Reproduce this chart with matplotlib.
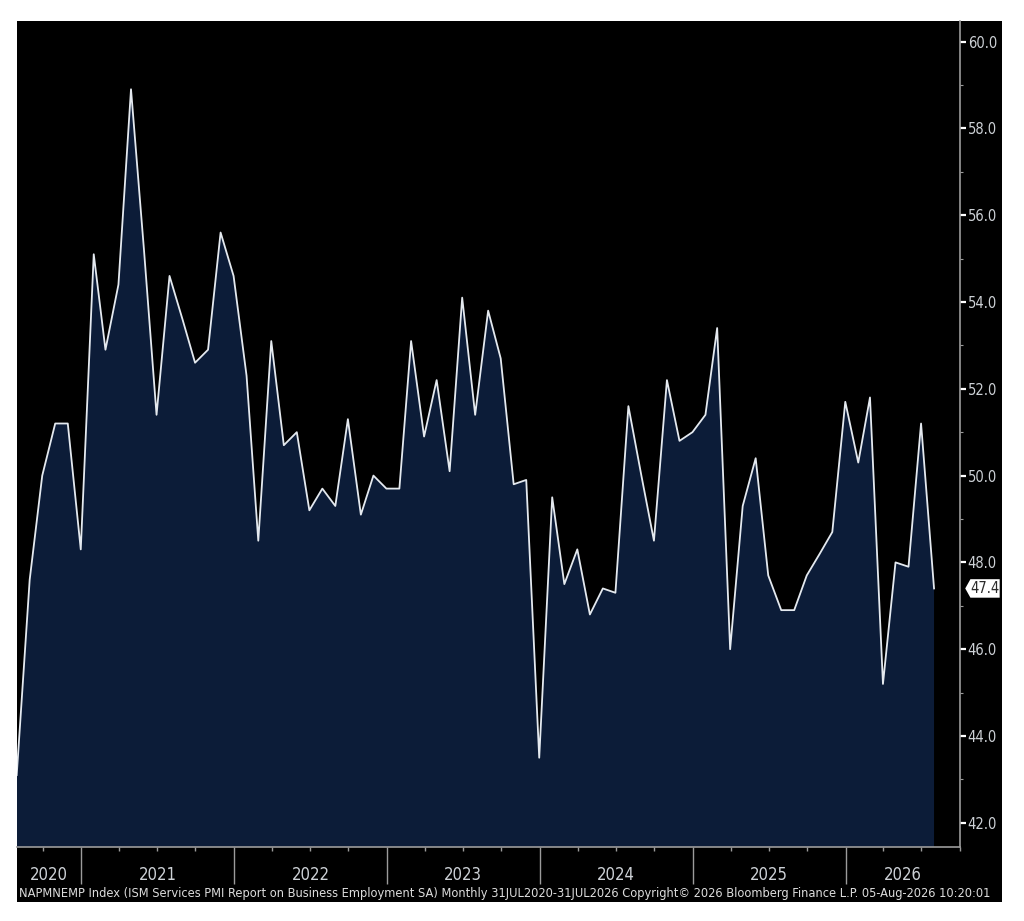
import os

import matplotlib
matplotlib.use("Agg")
import matplotlib.pyplot as plt
import matplotlib.dates as mdates
import matplotlib.ticker as mticker
import pandas as pd
from matplotlib import font_manager as fm
from matplotlib.patches import Rectangle
from matplotlib.path import Path

# ISM services employment, monthly Jul-2020 .. Jul-2026
dates = pd.date_range("2020-07-31", periods=73, freq="ME")
values = [
    43.1, 47.6, 50.0, 51.2, 51.2, 48.3,
    55.1, 52.9, 54.4, 58.9, 55.2, 51.4, 54.6, 53.6, 52.6, 52.9, 55.6, 54.6,
    52.3, 48.5, 53.1, 50.7, 51.0, 49.2, 49.7, 49.3, 51.3, 49.1, 50.0, 49.7,
    49.7, 53.1, 50.9, 52.2, 50.1, 54.1, 51.4, 53.8, 52.7, 49.8, 49.9, 43.5,
    49.5, 47.5, 48.3, 46.8, 47.4, 47.3, 51.6, 50.0, 48.5, 52.2, 50.8, 51.0,
    51.4, 53.4, 46.0, 49.3, 50.4, 47.7, 46.9, 46.9, 47.7, 48.2, 48.7, 51.7,
    50.3, 51.8, 45.2, 48.0, 47.9, 51.2, 47.4,
]
years = [2020, 2021, 2022, 2023, 2024, 2025, 2026]
y_major = [42, 44, 46, 48, 50, 52, 54, 56, 58, 60]
footer = ("NAPMNEMP Index (ISM Services PMI Report on Business Employment SA) "
          "Monthly 31JUL2020-31JUL2026 Copyright\u00a9 2026 Bloomberg Finance L.P. "
          "05-Aug-2026 10:20:01")

FILL = "#0c1c38"
LINE = "#e4e9ef"
GREY = "#9b9b9b"
TXT = "#cdd1d6"


def narrow_font_file():
    prefs = ["liberationsansnarrow-regular", "dejavusanscondensed.ttf",
             "robotocondensed-regular", "notosans-condensed.ttf",
             "opensans-condensed"]
    files = [f.fname for f in fm.fontManager.ttflist]
    for p in prefs:
        for fn in files:
            if p in os.path.basename(fn).lower():
                return fn
    for f in fm.fontManager.ttflist:
        if (f.stretch in ("condensed", "semi-condensed") and f.style == "normal"
                and f.weight in (400, "normal", "regular")):
            return f.fname
    return None


NARROW = narrow_font_file()


def font(size):
    fp = fm.FontProperties(fname=NARROW) if NARROW else fm.FontProperties(family="DejaVu Sans")
    fp.set_size(size)
    return fp


W, H = 1024, 921
fig = plt.figure(figsize=(W / 100, H / 100), dpi=100, facecolor="white")
# black terminal panel behind everything
fig.patches.append(Rectangle((16.7 / W, 1 - 901.7 / H), 985 / W, 881 / H,
                             transform=fig.transFigure, facecolor="black",
                             edgecolor="none", zorder=-5))

ax = fig.add_axes([16.7 / W, 1 - 846.7 / H, (960 - 16.7) / W, (846.7 - 20.7) / H])
ax.set_zorder(2)
ax.set_facecolor("black")
ax.fill_between(dates, values, 30, color=FILL, lw=0, zorder=1)
ax.plot(dates, values, color=LINE, lw=1.3, zorder=2)

ax.set_xlim(pd.Timestamp("2020-07-31"), pd.Timestamp("2026-10-01"))
ax.set_ylim(41.45, 60.48)

# y axis on the right, Bloomberg style
ax.yaxis.tick_right()
ax.yaxis.set_major_locator(mticker.FixedLocator(y_major))
ax.yaxis.set_minor_locator(mticker.MultipleLocator(1))
ax.yaxis.set_major_formatter(mticker.FormatStrFormatter("%.1f"))
ax.tick_params(axis="y", which="major", length=4, width=1.6, color="white",
               labelcolor=TXT, pad=1.5)
ax.tick_params(axis="y", which="minor", length=2.5, width=0.8, color=GREY)
for lab in ax.get_yticklabels():
    lab.set_fontproperties(font(10.5))

# x axis: year separators + quarter ticks, labels centred in each year
ax.xaxis.set_major_locator(mdates.YearLocator())
ax.xaxis.set_minor_locator(mdates.MonthLocator(bymonth=[1, 4, 7, 10]))
ax.tick_params(axis="x", which="major", length=26.5, width=1, color=GREY,
               labelbottom=False)
ax.tick_params(axis="x", which="minor", length=3, width=1, color=GREY)

for side in ("left", "top"):
    ax.spines[side].set_visible(False)
for side in ("right", "bottom"):
    ax.spines[side].set_color(GREY)
    ax.spines[side].set_linewidth(1.2)

x0, x1 = ax.get_xlim()
for yr in years:
    a = max(mdates.date2num(pd.Timestamp(f"{yr}-01-01")), x0)
    b = min(mdates.date2num(pd.Timestamp(f"{yr + 1}-01-01")), x1)
    ax.annotate(str(yr), xy=((a + b) / 2, 0), xycoords=("data", "axes fraction"),
                xytext=(0, -20.5), textcoords="offset points", ha="center",
                va="center", color=TXT, fontproperties=font(12),
                annotation_clip=False)


# last-value tag pointing at the axis (taller than the text, pointed on the left)
def tag_box(x0, y0, width, height, mutation_size):
    ext = 0.12 * mutation_size
    y0, height = y0 - ext, height + 2 * ext
    tip = height * 0.28
    return Path([(x0 - tip, y0 + height / 2), (x0, y0 + height),
                 (x0 + width, y0 + height), (x0 + width, y0),
                 (x0, y0), (x0 - tip, y0 + height / 2)], closed=True)


ax.annotate(f"{values[-1]:.1f}", xy=(1, values[-1]),
            xycoords=("axes fraction", "data"), xytext=(7.5, 0),
            textcoords="offset points", ha="left", va="center", color="#2a2a2a",
            fontproperties=font(10.5), annotation_clip=False,
            bbox=dict(boxstyle=tag_box, fc="white", ec="none", pad=0.2))

# footer, squeezed to the panel width
ft = fig.text(19 / W, 1 - 893 / H, footer, ha="left", va="center", color="#dcdcdc",
              fontproperties=font(9))
r = fig.canvas.get_renderer()
wpx = ft.get_window_extent(renderer=r).width
ft.set_fontproperties(font(9 * 979 / wpx))

fig.savefig("out.png", dpi=100, facecolor="white")
